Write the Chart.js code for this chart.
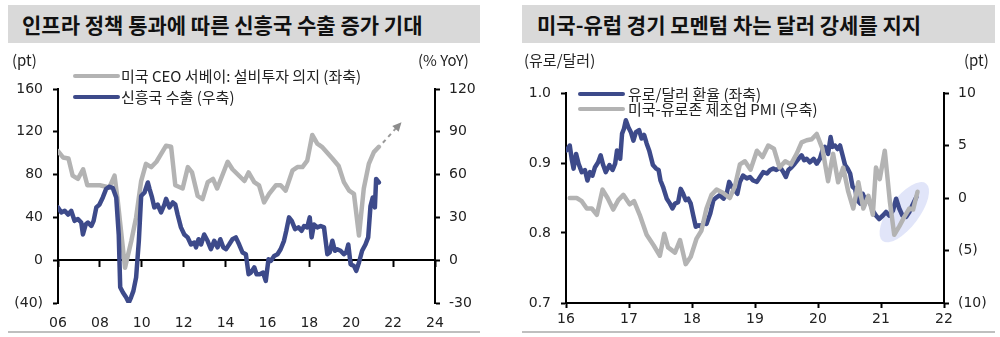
<!DOCTYPE html>
<html>
<head>
<meta charset="utf-8">
<script src="https://cdn.jsdelivr.net/npm/chart.js@4.4.1/dist/chart.umd.min.js"></script>
<style>
    body { margin: 0; background: #fff; font-family: "Noto Sans CJK KR", "Noto Sans", sans-serif; color: #222; }
    #wrap { position: relative; width: 1000px; height: 337px; overflow: hidden; }
    .band { position: absolute; top: 5px; height: 38px; background: #d9d9d9; }
    .title { position: absolute; top: 5px; height: 38px; line-height: 38px; font-size: 21px; font-weight: bold; color: #111; white-space: nowrap; }
    .rule { position: absolute; top: 331px; height: 2px; background: #bfbfbf; }
    .unit { position: absolute; top: 50px; font-size: 15px; line-height: 20px; white-space: nowrap; }
    .leg { position: absolute; font-size: 15px; line-height: 18px; white-space: nowrap; }
    .leg i { position: absolute; top: 7px; height: 4px; width: 47px; border-radius: 2px; }
    canvas { position: absolute; top: 0; }
</style>
</head>
<body>
<div id="wrap">
    <div class="band" style="left:8px; width:472px;"></div>
    <div class="band" style="left:522px; width:473px;"></div>
    <div class="title" style="left:22px;">인프라 정책 통과에 따른 신흥국 수출 증가 기대</div>
    <div class="title" style="left:537px;">미국-유럽 경기 모멘텀 차는 달러 강세를 지지</div>

    <canvas id="chartLeft" width="500" height="337" style="left:0;"></canvas>
    <canvas id="chartRight" width="500" height="337" style="left:500px;"></canvas>

    <div class="unit" style="left:12px;">(pt)</div>
    <div class="unit" style="left:418px;">(% YoY)</div>
    <div class="unit" style="left:524px;">(유로/달러)</div>
    <div class="unit" style="left:964px;">(pt)</div>

    <div class="leg" style="left:73px; top:67px; padding-left:48px;"><i style="left:0; background:#b3b3b3;"></i>미국 CEO 서베이: 설비투자 의지 (좌축)</div>
    <div class="leg" style="left:73px; top:88px; padding-left:48px;"><i style="left:0; background:#3d4a8a;"></i>신흥국 수출 (우축)</div>
    <div class="leg" style="left:578px; top:85px; padding-left:50px;"><i style="left:0; background:#3d4a8a;"></i>유로/달러 환율 (좌축)</div>
    <div class="leg" style="left:578px; top:100px; padding-left:50px;"><i style="left:0; background:#b3b3b3;"></i>미국-유로존 제조업 PMI (우축)</div>

    <div class="rule" style="left:8px; width:472px;"></div>
    <div class="rule" style="left:522px; width:473px;"></div>
</div>

<script>
// =========================
// LEFT CHART DATA
// =========================
const leftXTicks = [2006, 2008, 2010, 2012, 2014, 2016, 2018, 2020, 2022, 2024];
const leftXLabels = ["06", "08", "10", "12", "14", "16", "18", "20", "22", "24"];
const leftYTicks = [-40, 0, 40, 80, 120, 160];
const leftY1Ticks = [-30, 0, 30, 60, 90, 120];

// US CEO survey: capex plans (pt, left axis)
const ceoYears = [2006.00, 2006.24, 2006.50, 2006.70, 2006.95, 2007.20, 2007.40, 2008.00, 2008.45, 2008.70,
    2008.85, 2009.20, 2009.50, 2009.73, 2009.97, 2010.20, 2010.45, 2010.70, 2011.16, 2011.40,
    2011.60, 2011.95, 2012.20, 2012.40, 2012.67, 2012.90, 2013.15, 2013.40, 2013.60, 2014.10,
    2014.33, 2014.90, 2015.10, 2015.37, 2015.60, 2015.84, 2016.08, 2016.40, 2016.63, 2016.87,
    2017.20, 2017.43, 2017.67, 2017.90, 2018.14, 2018.38, 2018.60, 2019.10, 2019.40, 2019.65,
    2019.90, 2020.13, 2020.37, 2020.60, 2020.84, 2021.08, 2021.32];
const ceoValues = [102, 96, 95, 79, 76, 85, 70, 70, 68, 79,
    56, -7, 18, 40, 74, 90, 87, 92, 107, 106,
    70, 67, 87, 82, 60, 57, 73, 76, 67, 92,
    85, 74, 82, 73, 70, 54, 62, 70, 70, 65,
    84, 87, 87, 93, 117, 109, 106, 95, 88, 73,
    65, 62, 23, 67, 90, 101, 106];

// EM exports (% YoY, right axis)
const emYears = [2006.00, 2006.16, 2006.32, 2006.48, 2006.63, 2006.79, 2006.95, 2007.11, 2007.19, 2007.32,
    2007.43, 2007.59, 2007.70, 2007.83, 2007.98, 2008.14, 2008.30, 2008.46, 2008.62, 2008.78,
    2008.90, 2008.97, 2009.10, 2009.25, 2009.38, 2009.49, 2009.60, 2009.73, 2009.86, 2009.97,
    2010.13, 2010.29, 2010.37, 2010.49, 2010.60, 2010.76, 2010.92, 2011.08, 2011.16, 2011.32,
    2011.48, 2011.60, 2011.71, 2011.87, 2012.03, 2012.19, 2012.35, 2012.51, 2012.59, 2012.71,
    2012.83, 2012.98, 2013.14, 2013.30, 2013.46, 2013.62, 2013.75, 2013.89, 2014.02, 2014.17,
    2014.33, 2014.49, 2014.65, 2014.81, 2014.97, 2015.10, 2015.21, 2015.37, 2015.48, 2015.63,
    2015.79, 2015.92, 2016.05, 2016.16, 2016.32, 2016.48, 2016.63, 2016.79, 2016.90, 2017.03,
    2017.16, 2017.32, 2017.48, 2017.63, 2017.75, 2017.90, 2018.02, 2018.11, 2018.22, 2018.38,
    2018.54, 2018.70, 2018.86, 2018.97, 2019.10, 2019.22, 2019.33, 2019.49, 2019.65, 2019.76,
    2019.86, 2019.97, 2020.13, 2020.24, 2020.37, 2020.52, 2020.68, 2020.81, 2020.92, 2021.03,
    2021.13, 2021.19, 2021.32];
const emValues = [37, 33.5, 34.6, 32, 34.6, 27.6, 28.8, 26.4, 18, 25,
    26.4, 24, 27.6, 37, 39, 44, 50, 51.5, 50.5, 44,
    18, -19, -22.7, -26, -29.7, -26, -21.5, -12, 13.6, 45,
    47.5, 54.5, 50, 44, 37, 39, 33.5, 39, 43, 37,
    40.5, 39, 32, 23, 18, 16, 11, 12.4, 9, 14.7,
    11, 18, 13.6, 7.7, 13.6, 9, 14.7, 9, 7.7, 11,
    14.7, 16, 11, 5.4, 4.2, -9.8, -8.7, -5, -9.8, -9.8,
    -8.7, -14.5, 0.7, -0.5, 3, 4.2, 7.7, 13.6, 20.6, 30,
    27.6, 21.8, 23, 20.6, 24, 23, 30, 16, 25, 23,
    24, 23, 4.2, 5.4, 13.6, 6.6, 7.7, 6.6, 4.2, 5.4,
    11, -2.8, -4, -7.5, -1.6, 6.6, 11, 16, 38, 44,
    37, 57, 54.5];

// dashed arrow target (year, pt)
const ceoArrowTo = [2022.4, 129];

// =========================
// RIGHT CHART DATA
// =========================
const rightXTicks = [2016, 2017, 2018, 2019, 2020, 2021, 2022];
const rightXLabels = ["16", "17", "18", "19", "20", "21", "22"];
const rightYTicks = [0.7, 0.8, 0.9, 1.0];
const rightY1Ticks = [-10, -5, 0, 5, 10];

// EUR per USD (left axis)
const fxYears = [2016.01, 2016.06, 2016.09, 2016.12, 2016.16, 2016.20, 2016.25, 2016.30, 2016.34, 2016.38,
    2016.42, 2016.46, 2016.51, 2016.55, 2016.59, 2016.63, 2016.69, 2016.74, 2016.78, 2016.81,
    2016.86, 2016.89, 2016.92, 2016.95, 2016.99, 2017.03, 2017.07, 2017.11, 2017.16, 2017.20,
    2017.24, 2017.28, 2017.32, 2017.38, 2017.43, 2017.47, 2017.50, 2017.54, 2017.60, 2017.65,
    2017.69, 2017.73, 2017.78, 2017.82, 2017.86, 2017.90, 2017.94, 2017.98, 2018.02, 2018.06,
    2018.11, 2018.15, 2018.19, 2018.23, 2018.29, 2018.34, 2018.39, 2018.44, 2018.50, 2018.55,
    2018.59, 2018.63, 2018.68, 2018.72, 2018.76, 2018.81, 2018.87, 2018.92, 2018.97, 2019.03,
    2019.08, 2019.13, 2019.19, 2019.24, 2019.29, 2019.34, 2019.40, 2019.45, 2019.49, 2019.53,
    2019.58, 2019.63, 2019.69, 2019.74, 2019.78, 2019.82, 2019.87, 2019.93, 2019.98, 2020.03,
    2020.07, 2020.11, 2020.16, 2020.20, 2020.23, 2020.27, 2020.31, 2020.35, 2020.39, 2020.43,
    2020.47, 2020.51, 2020.55, 2020.59, 2020.62, 2020.67, 2020.71, 2020.75, 2020.78, 2020.83,
    2020.87, 2020.92, 2020.97, 2021.03, 2021.08, 2021.13, 2021.19, 2021.24, 2021.29, 2021.34,
    2021.40, 2021.45, 2021.50, 2021.56];
const fxValues = [0.918, 0.925, 0.906, 0.892, 0.913, 0.899, 0.887, 0.890, 0.875, 0.887,
    0.882, 0.894, 0.901, 0.911, 0.897, 0.887, 0.897, 0.890, 0.899, 0.918,
    0.906, 0.942, 0.949, 0.961, 0.951, 0.944, 0.932, 0.944, 0.947, 0.935,
    0.940, 0.928, 0.918, 0.897, 0.892, 0.890, 0.875, 0.866, 0.849, 0.842,
    0.835, 0.842, 0.844, 0.863, 0.856, 0.847, 0.849, 0.842, 0.825, 0.809,
    0.811, 0.809, 0.816, 0.813, 0.828, 0.847, 0.851, 0.854, 0.849, 0.856,
    0.873, 0.866, 0.861, 0.856, 0.873, 0.882, 0.878, 0.880, 0.875, 0.873,
    0.880, 0.887, 0.885, 0.890, 0.892, 0.890, 0.894, 0.887, 0.880, 0.890,
    0.894, 0.899, 0.906, 0.911, 0.904, 0.906, 0.901, 0.906, 0.899, 0.906,
    0.918, 0.923, 0.913, 0.937, 0.923, 0.925, 0.920, 0.925, 0.911, 0.897,
    0.892, 0.885, 0.866, 0.863, 0.847, 0.842, 0.856, 0.847, 0.851, 0.842,
    0.832, 0.825, 0.820, 0.825, 0.830, 0.825, 0.832, 0.849, 0.835, 0.825,
    0.823, 0.830, 0.840, 0.851];

// US minus Eurozone manufacturing PMI (pt, right axis)
const pmiYears = [2016.06, 2016.17, 2016.25, 2016.33, 2016.41, 2016.49, 2016.58, 2016.66, 2016.75, 2016.83,
    2016.91, 2017.01, 2017.08, 2017.17, 2017.28, 2017.39, 2017.49, 2017.56, 2017.62, 2017.73,
    2017.81, 2017.90, 2017.98, 2018.07, 2018.15, 2018.23, 2018.31, 2018.39, 2018.49, 2018.60,
    2018.68, 2018.76, 2018.84, 2018.93, 2019.03, 2019.12, 2019.21, 2019.30, 2019.39, 2019.48,
    2019.57, 2019.66, 2019.74, 2019.82, 2019.90, 2019.98, 2020.07, 2020.16, 2020.24, 2020.32,
    2020.40, 2020.48, 2020.56, 2020.64, 2020.72, 2020.80, 2020.87, 2020.92, 2020.98, 2021.06,
    2021.14, 2021.21, 2021.29, 2021.37, 2021.45, 2021.51, 2021.58];
const pmiValues = [0, 0, -0.3, -1.0, -1.0, -1.6, 0.8, 0, -1.1, -0.2,
    0.3, -0.6, -0.3, -1.6, -3.5, -4.5, -5.5, -3.4, -4.7, -5.2,
    -4.0, -6.3, -5.6, -3.9, -3.1, -1.0, 0.3, 0.8, 0.5, 0,
    1.1, 3.2, 3.5, 2.7, 4.5, 3.9, 5.0, 4.7, 2.9, 3.5,
    3.2, 4.2, 5.3, 5.5, 5.6, 6.1, 4.7, 1.6, 4.2, 1.5,
    2.9, 0.6, -1.0, 1.5, -1.0, 0.2, -1.6, 2.9, 1.8, 4.5,
    -0.3, -3.5, -2.7, -1.8, -1.0, -1.1, 0.6];

// highlight ellipse centre (year, pt on right axis)
const highlightAt = [2021.37, -1.35];


// =========================
// COMMON STYLE
// =========================
const BLUE = "#3d4a8a";
const GRAY = "#b3b3b3";

Chart.defaults.font.family = "'DejaVu Sans', 'Noto Sans CJK KR', sans-serif";
Chart.defaults.font.size = 14;
Chart.defaults.color = "#222";

function toPoints(xs, ys) {
    return xs.map((x, i) => ({ x: x, y: ys[i] }));
}

function fixedTicks(values) {
    return scale => { scale.ticks = values.map(v => ({ value: v })); };
}

function lineSet(label, data, color, yAxisID, order) {
    return {
        label: label,
        data: data,
        yAxisID: yAxisID,
        borderColor: color,
        borderWidth: 4.5,
        pointRadius: 0,
        tension: 0,
        order: order,
        borderJoinStyle: "round",
        borderCapStyle: "round"
    };
}

function yAxis(pos, ticks, labelFn, width, pad) {
    return {
        type: "linear",
        position: pos,
        min: ticks[0],
        max: ticks[ticks.length - 1],
        afterBuildTicks: fixedTicks(ticks),
        afterFit: s => { s.width = width; },
        grid: { drawOnChartArea: false, drawTicks: true, tickLength: 5, tickWidth: 2, color: "#000" },
        border: { display: true, color: "#000", width: 2 },
        ticks: { padding: pad, callback: labelFn }
    };
}

const paren = v => v < 0 ? "(" + (-v) + ")" : String(v);


// =========================
// LEFT CHART
// =========================
const arrowPlugin = {
    id: "ceoArrow",
    afterDatasetsDraw(chart) {
        const { ctx, scales } = chart;
        const last = ceoYears.length - 1;
        const x0 = scales.x.getPixelForValue(ceoYears[last]) + 4;
        const y0 = scales.y.getPixelForValue(ceoValues[last]) - 4;
        const x1 = scales.x.getPixelForValue(ceoArrowTo[0]);
        const y1 = scales.y.getPixelForValue(ceoArrowTo[1]);
        const ang = Math.atan2(y1 - y0, x1 - x0);
        ctx.save();
        ctx.strokeStyle = "#999";
        ctx.lineWidth = 2;
        ctx.setLineDash([4, 4]);
        ctx.beginPath();
        ctx.moveTo(x0, y0);
        ctx.lineTo(x1 - 6 * Math.cos(ang), y1 - 6 * Math.sin(ang));
        ctx.stroke();
        ctx.setLineDash([]);
        ctx.fillStyle = "#8c8c8c";
        ctx.beginPath();
        ctx.moveTo(x1, y1);
        ctx.lineTo(x1 - 10 * Math.cos(ang - 0.45), y1 - 10 * Math.sin(ang - 0.45));
        ctx.lineTo(x1 - 10 * Math.cos(ang + 0.45), y1 - 10 * Math.sin(ang + 0.45));
        ctx.closePath();
        ctx.fill();
        ctx.restore();
    }
};

new Chart(document.getElementById("chartLeft"), {
    type: "line",
    data: {
        datasets: [
            lineSet("미국 CEO 서베이: 설비투자 의지 (좌축)", toPoints(ceoYears, ceoValues), GRAY, "y", 1),
            lineSet("신흥국 수출 (우축)", toPoints(emYears, emValues), BLUE, "y1", 0)
        ]
    },
    options: {
        responsive: false,
        animation: false,
        layout: { padding: { top: 89, left: 0, right: 0, bottom: 0 } },
        plugins: { legend: { display: false }, tooltip: { enabled: false } },
        scales: {
            x: {
                type: "linear",
                position: "bottom",
                min: leftXTicks[0],
                max: leftXTicks[leftXTicks.length - 1],
                afterBuildTicks: fixedTicks(leftXTicks),
                afterFit: s => { s.height = 34; },
                grid: { display: false },
                border: { display: false },
                ticks: { padding: 4, maxRotation: 0, callback: (v, i) => leftXLabels[i] }
            },
            // zero line with its tick marks
            x2: {
                type: "linear",
                position: { y: 0 },
                min: leftXTicks[0],
                max: leftXTicks[leftXTicks.length - 1],
                afterBuildTicks: fixedTicks(leftXTicks),
                grid: { drawOnChartArea: false, drawTicks: true, tickLength: 6, tickWidth: 2, color: "#000" },
                border: { display: true, color: "#000", width: 2 },
                ticks: { display: false }
            },
            y: yAxis("left", leftYTicks, paren, 58, 10),
            y1: yAxis("right", leftY1Ticks, v => String(v), 65, 9)
        }
    },
    plugins: [arrowPlugin]
});


// =========================
// RIGHT CHART
// =========================
const ellipsePlugin = {
    id: "highlight",
    beforeDatasetsDraw(chart) {
        const { ctx, scales } = chart;
        const cx = scales.x.getPixelForValue(highlightAt[0]);
        const cy = scales.y1.getPixelForValue(highlightAt[1]);
        ctx.save();
        ctx.fillStyle = "rgba(205, 212, 245, 0.6)";
        ctx.beginPath();
        ctx.ellipse(cx, cy, 36, 15, -53 * Math.PI / 180, 0, Math.PI * 2);
        ctx.fill();
        ctx.restore();
    }
};

new Chart(document.getElementById("chartRight"), {
    type: "line",
    data: {
        datasets: [
            lineSet("유로/달러 환율 (좌축)", toPoints(fxYears, fxValues), BLUE, "y", 1),
            lineSet("미국-유로존 제조업 PMI (우축)", toPoints(pmiYears, pmiValues), GRAY, "y1", 0)
        ]
    },
    options: {
        responsive: false,
        animation: false,
        layout: { padding: { top: 93, left: 0, right: 0, bottom: 0 } },
        plugins: { legend: { display: false }, tooltip: { enabled: false } },
        scales: {
            x: {
                type: "linear",
                position: "bottom",
                min: rightXTicks[0],
                max: rightXTicks[rightXTicks.length - 1],
                afterBuildTicks: fixedTicks(rightXTicks),
                afterFit: s => { s.height = 34; },
                grid: { drawOnChartArea: false, drawTicks: true, tickLength: 5, tickWidth: 2, color: "#000" },
                border: { display: true, color: "#000", width: 2 },
                ticks: { padding: 3, maxRotation: 0, callback: (v, i) => rightXLabels[i] }
            },
            y: yAxis("left", rightYTicks, v => v.toFixed(1), 66, 10),
            y1: yAxis("right", rightY1Ticks, paren, 56, 9)
        }
    },
    plugins: [ellipsePlugin]
});
</script>
</body>
</html>
